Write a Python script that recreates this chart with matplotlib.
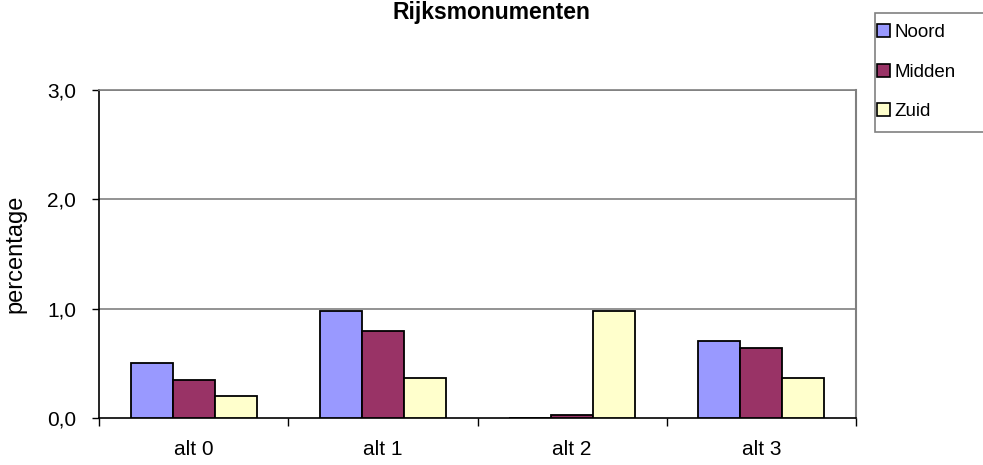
import matplotlib
matplotlib.use("Agg")
import matplotlib.pyplot as plt
import numpy as np
from matplotlib.patches import Patch, Rectangle

plt.rcParams['font.family'] = ['Liberation Sans', 'DejaVu Sans']

categories = ["alt 0", "alt 1", "alt 2", "alt 3"]
series_names = ["Noord", "Midden", "Zuid"]
noord = [0.50, 0.98, 0.0, 0.70]
midden = [0.35, 0.80, 0.03, 0.64]
zuid = [0.20, 0.37, 0.98, 0.37]
colors = ["#9999FF", "#993366", "#FFFFCC"]
yticks = [0.0, 1.0, 2.0, 3.0]

W, H = 983, 465
fig = plt.figure(figsize=(W / 100, H / 100), dpi=100)
ax = fig.add_axes([99 / W, 1 - 418 / H, (856 - 99) / W, (418 - 90) / H])

x = np.arange(len(categories))
bw = 1 / 4.5
for i, (vals, c) in enumerate(zip([noord, midden, zuid], colors)):
    ax.bar(x + (i - 1) * bw, vals, width=bw, color=c, edgecolor="black",
           linewidth=1.3, zorder=3)

ax.set_xlim(-0.5, len(categories) - 0.5)
ax.set_ylim(0, 3.0)
ax.set_yticks(yticks)
ax.set_yticklabels([f"{v:.1f}".replace(".", ",") for v in yticks], fontsize=15)
for v in yticks[1:]:
    ax.axhline(v, color="#808080", linewidth=1.2, zorder=1)

ax.set_xticks(x)
ax.set_xticklabels(categories, fontsize=15)
ax.tick_params(axis="x", which="major", length=0, pad=16)
ax.set_xticks(np.arange(-0.5, len(categories)), minor=True)
ax.tick_params(axis="x", which="minor", length=6, width=1, color="black")
ax.tick_params(axis="y", length=5, width=1, color="black", pad=11.5)

ax.spines["left"].set_color("black")
ax.spines["bottom"].set_color("black")
ax.spines["left"].set_linewidth(1.2)
ax.spines["bottom"].set_linewidth(1.2)
ax.spines["top"].set_color("#808080")
ax.spines["right"].set_color("#808080")
ax.spines["right"].set_linewidth(1.5)
ax.spines["top"].set_linewidth(1.2)

ax.set_ylabel("percentage", fontsize=17)
ax.yaxis.set_label_coords((26 - 99) / 757, 0.5)
fig.text(491 / W, 1 - 19 / H, "Rijksmonumenten", ha="center", va="baseline",
         fontsize=16.5, fontweight="bold")

# legend frame (extends past the right edge, as in the reference)
fig.patches.append(Rectangle((875 / W, 1 - 132 / H), 130 / W, 119 / H,
                             transform=fig.transFigure, facecolor="white",
                             edgecolor="#808080", linewidth=1.2,
                             clip_on=False, zorder=0))
handles = [Patch(facecolor=c, edgecolor="black", linewidth=1.2) for c in colors]
leg = fig.legend(handles, series_names, loc="upper left",
                 bbox_to_anchor=(877 / W, 1 - 24 / H), fontsize=13.5,
                 frameon=False, handlelength=0.7, handleheight=0.7,
                 handletextpad=0.25, labelspacing=1.2, borderpad=0,
                 borderaxespad=0)

fig.savefig("out.png", dpi=100)
